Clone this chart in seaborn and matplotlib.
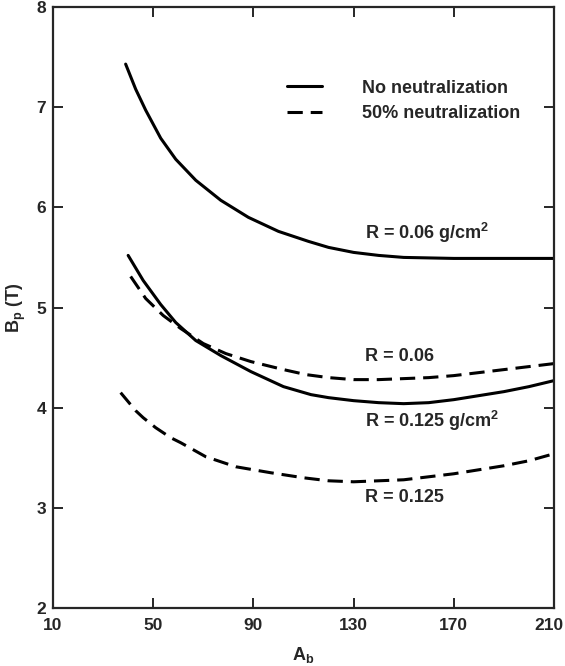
import matplotlib
matplotlib.use("Agg")
import matplotlib.pyplot as plt
import matplotlib.transforms as mtransforms
import pandas as pd
import seaborn as sns

sns.set_theme(style="ticks")
plt.rcParams.update({
    'font.family': ['Liberation Sans', 'DejaVu Sans'],
    'font.weight': 'bold',
    'mathtext.fontset': 'custom',
    'mathtext.rm': 'Liberation Sans:bold',
    'mathtext.bf': 'Liberation Sans:bold',
    'mathtext.it': 'Liberation Sans:bold',
    'mathtext.default': 'bf',
    'axes.linewidth': 1.6,
    'lines.solid_joinstyle': 'round',
    'lines.dash_joinstyle': 'round',
})

# Curves (A_b vs B_p in tesla)
a_no_006 = [39, 43, 47, 53, 59, 67, 77, 88, 100, 112, 120, 130, 140, 150, 170, 190, 210]
b_no_006 = [7.43, 7.18, 6.97, 6.69, 6.48, 6.27, 6.07, 5.90, 5.76, 5.66, 5.60, 5.55, 5.52, 5.50, 5.49, 5.49, 5.49]

a_no_0125 = [40, 46, 53, 59, 67, 77, 89, 102, 113, 120, 130, 140, 150, 160, 170, 180, 190, 200, 210]
b_no_0125 = [5.52, 5.27, 5.03, 4.85, 4.67, 4.52, 4.36, 4.21, 4.13, 4.10, 4.07, 4.05, 4.04, 4.05, 4.08, 4.12, 4.16, 4.21, 4.27]

a_half_006 = [41, 47, 54, 61, 70, 79, 89, 102, 111, 120, 130, 140, 150, 160, 170, 180, 190, 200, 210]
b_half_006 = [5.31, 5.09, 4.92, 4.79, 4.64, 4.54, 4.46, 4.38, 4.33, 4.30, 4.28, 4.28, 4.29, 4.30, 4.32, 4.35, 4.38, 4.41, 4.44]

a_half_0125 = [37, 43, 46, 51, 57, 61, 71, 83, 97, 110, 120, 130, 140, 150, 160, 170, 180, 190, 200, 210]
b_half_0125 = [4.15, 3.97, 3.90, 3.80, 3.70, 3.65, 3.51, 3.41, 3.35, 3.30, 3.27, 3.26, 3.27, 3.28, 3.31, 3.34, 3.38, 3.42, 3.47, 3.54]

x_ticks = [10, 50, 90, 130, 170, 210]
y_ticks = [2, 3, 4, 5, 6, 7, 8]

curve_labels = {
    'R = 0.06 g/cm$^2$': (134.5, 5.74),
    'R = 0.06': (134.5, 4.51),
    'R = 0.125 g/cm$^2$': (134.5, 3.87),
    'R = 0.125': (134.5, 3.10),
}

fig = plt.figure(figsize=(5.65, 6.66), dpi=100)
ax = fig.add_axes([53 / 565, 1 - 608 / 666, 501 / 565, 601 / 666])

curves = [
    (a_no_006, b_no_006, '-', 'No neutralization'),
    (a_no_0125, b_no_0125, '-', None),
    (a_half_006, b_half_006, '--', '50% neutralization'),
    (a_half_0125, b_half_0125, '--', None),
]
for a, b, ls, lab in curves:
    df = pd.DataFrame({'A': a, 'B': b})
    line_kw = dict(x='A', y='B', data=df, ax=ax, color='black', lw=2.2, label=lab)
    if ls == '--':
        sns.lineplot(**line_kw, linestyle=(0, (5, 2.6)))
    else:
        sns.lineplot(**line_kw)

for txt, (x, y) in curve_labels.items():
    ax.text(x, y, txt, fontsize=13, fontweight='bold', va='center', ha='left')

ax.set_xlim(10, 210)
ax.set_ylim(2, 8)
ax.set_xticks(x_ticks)
ax.set_yticks(y_ticks)
ax.tick_params(direction='in', length=7, width=1.4, top=True, right=True,
               labelsize=12.5)
ax.tick_params(axis='x', pad=7)
ax.tick_params(axis='y', pad=5)
for lbl in ax.get_xticklabels() + ax.get_yticklabels():
    lbl.set_fontweight('bold')
# last x label sits right at the figure edge; nudge it in a little
last = ax.get_xticklabels()[-1]
last.set_transform(last.get_transform() + mtransforms.ScaledTranslation(-5 / 100, 0, fig.dpi_scale_trans))

ax.set_xlabel('$A_b$', fontsize=13, labelpad=9)
ax.set_ylabel('$B_p$ (T)', fontsize=13, fontweight='bold', labelpad=6)

leg = ax.legend(loc='upper left', bbox_to_anchor=(0.467, 0.879), frameon=False,
                borderpad=0, borderaxespad=0, handlelength=1.95, handletextpad=2.2,
                labelspacing=0.45, prop={'size': 13, 'weight': 'bold'})
for h in leg.get_lines():
    h.set_linewidth(2.2)

fig.savefig('out.png', dpi=100)
